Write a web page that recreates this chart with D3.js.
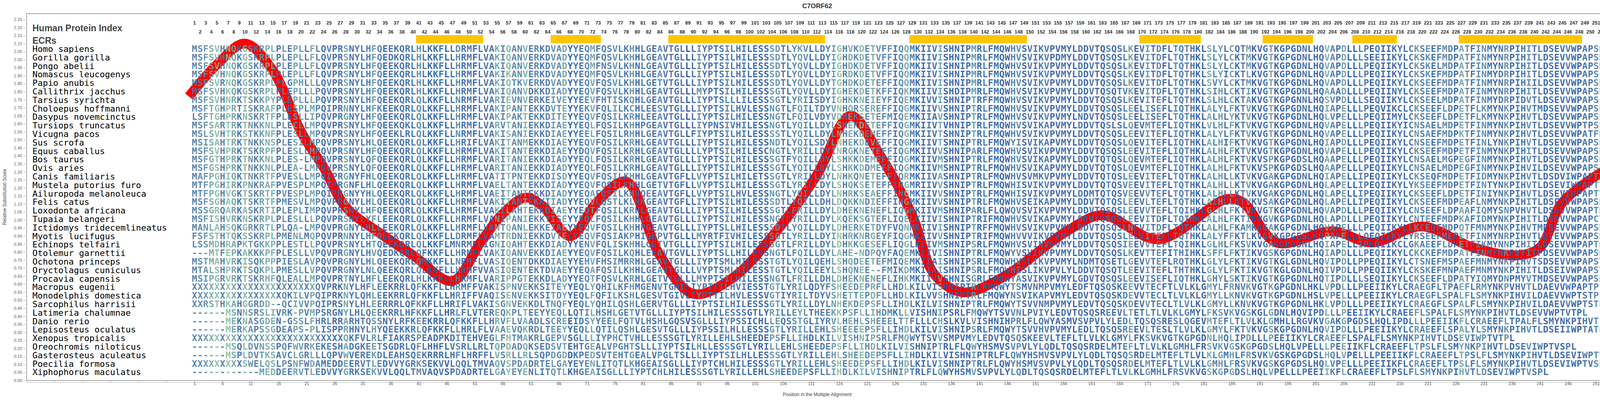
<!DOCTYPE html>
<html>
<head>
<meta charset="utf-8">
<script src="https://cdn.jsdelivr.net/npm/d3@7"></script>
<style>
  html, body { margin: 0; padding: 0; background: #fff; overflow: hidden; }
  svg { display: block; }
</style>
</head>
<body>
<div id="chart"></div>
<script>

const species = ["Homo sapiens", "Gorilla gorilla", "Pongo abelii", "Nomascus leucogenys", "Papio anubis",
    "Callithrix jacchus", "Tarsius syrichta", "Choloepus hoffmanni", "Dasypus novemcinctus", "Tursiops truncatus",
    "Vicugna pacos", "Sus scrofa", "Equus caballus", "Bos taurus", "Ovis aries", "Canis familiaris",
    "Mustela putorius furo", "Ailuropoda melanoleuca", "Felis catus", "Loxodonta africana", "Tupaia belangeri",
    "Ictidomys tridecemlineatus", "Myotis lucifugus", "Echinops telfairi", "Otolemur garnettii",
    "Ochotona princeps", "Oryctolagus cuniculus", "Procavia capensis", "Macropus eugenii",
    "Monodelphis domestica", "Sarcophilus harrisii", "Latimeria chalumnae", "Danio rerio",
    "Lepisosteus oculatus", "Xenopus tropicalis", "Oreochromis niloticus", "Gasterosteus aculeatus",
    "Poecilia formosa", "Xiphophorus maculatus"];

// alignment, read in four blocks per row
const sequences = [
    "MSFSVHNQKGSKRPLPLEPLLFLQVPRSNYLHFQEEKQRLHLKKFLLDRMFLVAKIQANVERKDVADYYEQMFQSVLKHHLGEAVTGLLLIYPTSILHILESSSDTLYKVLLDYIGHVKDETVFFIQQMKIIVISHNIPMRLFMQWHVSVIKVPVMYLDDVTQSQSLKEVITDFLTQTHKLSLYLCQTMKVGTKGPGDNLHQVAPDLLLPEQIIKYLCKSEEFMDPATFINMYNRPIHITLDSEVVWPAPSRF",
    "MSFSVHNQKGSKRPLPLEPLLFLQVPRSNYLHFQEDKQRLHLKKFLLHRMFLVAKIQANVERKDVADYYEQMFQSVLKHHLGEAVTGLLLIYPTSILHILESSSDTLYQVLLDYIGHDKDETVFFIQQMKIIVISHNIPMRLFMQWHVSVIKVPDMYLDDVTQSQSLKEVITDFLTQTHKLSLYLCKTMKVGTKGPGDNLHQVAPDLLLSEEIIKYLCKSKEFMDPATFINMYNRPIHITLDSEVVWPAPSRF",
    "MSFSVHNQKGSKRPLPLEPLLFLQVPRSNYLHFQEEKQRLHLKKFLLHRMFLVAKIQANVERKDVADYYEQMFNSVLKHNLGEAVTGLLLIYPTSILHILESSSDTLYQVLLDYIGHDKDETVFFIQQMKIIVISHNIPMRLFMQWHVSVIKVPVMYLDDVTQSQSLKEVITDFLTQTHKLSLYLCKTMKVGTKGPGDNLHQVAPDLLLPEQIIKYLCKSKELMDPATFINMYNRPIHITLDSEVVWPAPSRF",
    "MSFSVHNQKGSKRPLPLEPLLFLQVPRSNYLHFQEEKQRLHLKKFLLHRMFLVAKIKANVERKDVADYYEQMFQSVLKHHLGEAVTGLLLIYPTSILHILESSSDTLYQVLLDYIGRDKDETVFFIQQMKIIVISHNIPMRLFMQWHVSVIKVPVMYLDDVTQSQSLKEVITDFLTQTHKLSLYICKTLKVGTKGPGDNLHQVAPDLLLPEQIIKYLCKSKEFMDPATFINMYDRPIHITLDSEVVWPAPSCF",
    "MSFSVRNQKGSKRPLPLGPHLLLQVPRSNYLHFQEEKQRLHLKKFLLHRMFLVAKIQTKVERKDVADYYEQVFQSVLKHHLGETVTGLLLIYPTSILHILESSSDTLYQVLLDYTGHDKDETEFFIQQMKIIVISHNIPMRLFMQWHVSVIKVPVMYLDDVTQSQSLKEVITDFLTQTHKLSVYLCKTMKVGTKGPGDNLHQVAPDLLLPEQIIKYLCKSEEFMDPATFINMYNRPIHIILDSEVVWPAPSRF",
    "MSFSVHKQKGSKRPLPLEPLLLPQVPRSNYLHFQEEKQRLHLKKFLLHRMFLVAKIQANVDKKDIADYYEQVFQSVLKHHLGEAVTGLLLMYPTSILHILESSSGTLYQVLLDYIGHEKDETKFFIQKMKIIVISHDIPMRLFMQWHVSVIKVPVMYLDDVTQSQTVKEVITDFLTQTHKLSIHLCKTIKVGTKGPGDNLHQAAADLLLPEQIINYLCKSEEFMDPATFINMYNRPIHITLDSEVVWPAPSHF",
    "MSFSVHNRKTSKKPYPLEPLLLPQVPRSNYLHFQEEKQRLQLKKFLLNRMFLVARIEVNVERKEIVEYYEEVFHTISKQHLGEAVTGLLLIYPTSLLLILESSSGTLYRIISDYIGHKKNEIEYFIQEMKIVVISHNIPTRFFMQWHVSVIKVPVMYLDDVTQSQSLKEVITEFLTQTHKLSLHLCKTAKVGTKGPGNNLHQSVPDLLLSEQIIKYLCKSEELMDPATFINMYDRPIDVTLDSEVVWPAPSCF",
    "MSFTGHPRTISKRAFPLESPLMPQIPRNNYLHFKEEKQRLQLKKFLLHRMFLVAKIPANTEKKDVTEYYEKVFQLILKCHLEESVTGLLLIYPTSILHVLESSNGTLFQILTDYVNHQRSEREFFIQGMKIIVVSHNIPTRLFMQWHVSVIKVPVMYLDDVTQSQSLEELISEFLIQTHKLALYLFKTVKVGTKGPGDNLHQIAPELLLPEQVIKCLCKSEEFLDPETFLKMYNKPIHVTMDSEVVWPAPSRF",
    "LSFTGHPRKNSKRTFPLESLLIPQVPRGNYLHFQEEKQRLQLKKFLLHRMFLVAKIPAKTEKKDITEYYEQVFQSILKRHLEEAVTGLLLIYPTSILHILESSNGTLFQILVDYVDHEKSETEFMIQEMKIIAVSHNIPTRLFMQWHVSVIKVPVMYLNDVTQSQSLEELISEFLTQTHKLALHLYKTVKVGTKGPGDNLHQLVPELLLPEQIIMYLCKSEEFLDPETFLKMYNKPIHVTLDSEVVWPAPSRF",
    "MSFSARTRKTNKKNLPLECLLMPQVPRSNYLHFQEEKQKLQLKKFLLHRMFLVARVTANIEKKDIAEYYEQLFQSILKHHPGEAVTGLLLIYPNSIVHILESSNGTLYQILLDYLSHEKDETEFFIQGMKIIVTVHNIPTRLFMQWHVSVIKAPVMYLDDVTQSLSLQEVMTEFLIQTHKLVLHLFKTVKVGTKGPGDNLHQVAPELLLPEQIIKYICNSAELMDPETFINMYNKPIHVTLDSEVVWPTPSSF",
    "MSLSVHTRKSTKKNFPLESLLMPQVPRSNYLHFQEEKLRLQLKKFLLNRMFLVAKISANIEKKDIAEYYEELFQSILRHHLGEAVTGLLFIYPTSILHILESSSSTLYQILLDYLNHEKDEMEFFIQGMKIIVTSHNIPTRLFMQWHVSVIKVPVMYLDDVTQSQSLEEVITEFLIQTHKLALYLFKTVKVGTKGPGDNLHQVAPELLLPEQIIKYLCNSAEFMDPKTFINMYNKPIHVTLDSEVVWPATFRF",
    "MSISAHTRKTNKKNSPLESILMPQVPRSNYLHLQEEKQRLQLKKFLLHRIFLVAKITANMEKKDIAEYYEQVFQSILKRHLGEAVTGLLLIYPTSILHILESSNDTLYQILSDYLNHEKDEVEFFIQGMKIIVTSHNIPTRLFMQWYISVIKAPVMYLDDVTQSQSLQEVITEFLIQTHKLALHIFKTVKVGTKGPGDNLHQIAPDLLLPEQIIKYLCNSEEFMDPETFINLYNKPIHVTLDSEVVWPAPSRF",
    "MSFSVHPRKTSKRPFPLESLLMPQVPRSNYLHFQEEKQRLQLKKFLLHRMFLVAKITANTERKDIAEYYDQVFQSILKRHLGEAVTGLLLLYPTSILHILESCNGTLYRILLDYINRGKNETEFFIQGMKIIVVSHNIPARLFMQWHVSVIKVPVMYLDDVTQSQSLEEVITEFLIQTHKLALHLFKTVKVGTKGPGDNLHQVAPELLLPEQIIKYLCKSEEFMDPETFINMYNKPIHITLDSEVVWPAPSRF",
    "MSFGTHPRKTNKKNLPLES-LMPQVPRSNYLQFQEEKQRLQLKKFLLHRMFLVARITANIEKKDIADYYEQLFQSILKRHLGEAVTGLLLIYPTSILHILESSSGTFYQILLDYLSHKKDEMEFFIQGMKIIVMSHNIPTRLFMQWHVSVIKAPVMYLDDVTQTQSLQEVMTEFLIQTHKLALHLFKTVKVSPKGPGDSLHQAAPELLLPEQIIKYLCNSAELMGPEGFINMYNKPIHVTLDSEVVWPAPSRF",
    "MSFGSHPRKTNKKNLPLEA-LMPQVPRSNYLQFQEEKQRLQLKKFLLHRMFLVARITANIEKKDIADYYEQLFQSILKRHLGEAVTGLLLIYPTSILHILESSSGTLYQILLDYLSHKKDDMEFFIQGMKIIVMSHNIPTRLFMQWHVSVIKAPVMYLDDVTQTQSLQEVMTEFLIQTHKLALHLFKTVKVSPKGPGDSLHQAAPELLLPEQIIKYLCNSAELMDPEGFINMYNKPIHVILDSEVVWPAPSCF",
    "MAFPGHIQKTNKRTFPVESLLMPQIPRGNYFHLQEEKQRLQLKKFLLHRMFLVATITPNTEKKDISDYYEQVFQSILKHHLGEAVTGFLLVYPTSILHILETSSGTLYRILLDYLNHKQNETEFFIQRMKIIVASHNIPTRLFMQWHVSVMKVPVMYLDDVTQTQSLEEVITEFLTQTHKLALHLLKTVKVGAKGPGDNLHQIAPELLIPEQIIKYLCKSEQFMDPETFIDMYNKPIHVTLDSDVIWPAPTYF",
    "MTFPGHIRKPNKRAFPVESPLMPQIPRGNFLHLQEEKQRLQLKKFLLHRMFLVAELTANTEKKDIADYYEQVFQSILKHHLGETVTGFLLVYPTSILHILESSSGTLYRILLDYLSHQKSETEFFIRGMRIIVVSHNIPTRLFMQWHISVIKVPVMYLDDVTQTQSVEEVITEFLTQTHKLALHLLKTVKVGAKGPGDNLHQLAPELLIPEQIIKYLYKSEEFMDPETFINTYNKPIHVTLDSEVIWPAPTYF",
    "MTFPGHVGKTSKRTFPVESPLMPQIPRGNYYHLQEEKQRLQLKKFLLHRMFLVAEITANTEKKDIADYYEQAFQSILKHHQEEAVTGFLLVYPTSILHVLESSNGTLYQILLDYLNHRKSEAEFFIHGMKIIVVSHNIPTRLFMQWHISVIKVPVMYLDDMTQTQSVEEVVTEFLTQTHKLALHLLKTVKVGAKGPGDNLHQLAPELLIPEQIIKYLCKSEEFLDPETFINIYNKPIHVTLDSEVIWPAPTYF",
    "MSFSGHAQKTSKRTFPMESVLMPQVPRGNYLHLQEEKQRLQLKKFLLHRMFLVAKITANTEKKIIADYYEQVLQSTLKLHKGEAVTGFLLIYPTSILHILESSSDTLYQILLDHLDQKKNDIEFFIHGMKIIVVSHNIPTRLFMQWHVSEIKAPVMYLDDVTQTQSLEEVLTEFLTQTHKLAIHLLKTVKVSAKGPGDNLHQLAPELLIPEQIIKYLCKSEEFMDPEAFLNMYNKPIHITLDSEVVWPAPSHF",
    "MSSGRQARKASKRTIPLEPLIMPQVPRSNYLHFQEEKQRLQLKKFLLHRMFLVAKILAHTEKKDIAEYYEQTFQSILKRHLGEAVTGLLLIYPTSILHILESSSGTLFRILLDYLDHEKNENEFLIQGMKIIVMSHNIPARLFLQWQVSVIKVPVMYLDDVTQSQSLEEVVTEFLTQIHKLGLHLFKTVKVGTKGPGDNLHQVAPDLLLPEQIIKYLCNSEEFLDPAAFIQMYSNPVHVTLDSEVVWPAPTRF",
    "MSFISHVRKNSKRPLPLESLLLPQVPRSNYLYFLEEKQRLQLKKFLLHRMFLVANIPANIEKKYISEYYEQLFQSILKHHLGEAVTGLLLIYPTSILHILESSNGTLYRILLDYLKQEKSGTEFLIQELKIIVISHNIPTRIFMQWHVSVIKAPVMYLDDVTQSQSLEEVITDFLTQIHKLALHLFKTIKVGVKGPGDNLHQLAPDLLLPEQIIKYLCNTEEFMDPKAFIDMYNKPIHITLDSEVVWPAPCYF",
    "MANLAHSQKGRKRTLPLQA-LMPQVPRGNYLHLLEEKQRLQLKKFLLHRMFLVANTQANLEKKEIAEYYEQVFQSILKHHPGEAVTGLLLIYPTSLLHILESSSDTLYQILLDYLDHERKETDYFVQNMKIIVISHNIPTRFFMQWHVSVIKVPVMYLDDVTQSQSLNEVITDFLTQTHKLALHLFKAMKAGAKGPGDNLHQVAPELLLPEQIIKYLLKCEQFMDPQTFMNMYNKPIHVTMDSEVVWPAPSRF",
    "FSFSTHTQKSSKRPLPMENLMQPQVPRNNYLHFQEEKQRLQLKKFLLDRMFLVAMTRDNIEKKDVTEYYEQVFQSIAKPHIGEPVTGLLLMYRTFIVHILESSSGTLYRILLDYINHRKNRGEYFIQGMKIIVVSHNIPTRIFMQWHVVVIKVPVMYLDDVTQSQSLEEVITEFLTQTHKLALYFFKTLKVGVKGPGESLHQPAPELLLQEQIIKYLYRSEEFMEPETFINMYNRPIHVTLDTEVVWPAPSRF",
    "LSSMDHRAPKTGKKPPLESTLLPQVPRSNYLHTQEEKQRLQLKKFLMNRMFLIGNIQAHTEKKDIADYYENVFQLISKHHLGETVTGLLLIYPTSILHILESSSGTLFRILLDYLDHKKGESEFLIQGLKIIVMSHNIPSRLFMQWHVSVINVPVMYLDDVTQSQSIEEVVTEFLTQIHKLGLHLFKSVKVGAKGPGDNLHQIAPELLIPEQIIKCLGKAEEFLDPETFIKMYNNPIHITLDSEVVWPAPTRF",
    "---MTFEPKAKKKPFPLESLLVPQVPRGNYLHVQEDKQRLQFKKFLLHRMFLVAKIQANVEKKDIAEYYEQVFQSILKQHLEEAVTGVLLIYPTSLLHILESSNGTLFQILLDYLAHE-NDPQYFAQEMKIIVISHNIPTRLFMQWYVSVIKVPVMYLDDVTQSQSLKEVTTEFITHIHKLSFFLFKTIKVGSKGPGDNLHQIAPDLLLPEQIIKYLCKCKEFMDPATFINMYNKPVYITFDSEVVWPAPSRF",
    "MSTMAHVRKISQKPPPIESLAVPQVPRGNYLHLQEEKQRLQMKKFLLNRMFLVASIQENTDKKDIAEYYEHVFHSIMRRHLGEAVTGLLLIYPTSMLHILESSTGTLYQILQEHLSHQDEETEFMIQEMKIIAISHNIPSRLFMQWHVSLIKVPVMYLNDMTQSETLGEVVTEFLRQTHKLGLYLFKTIKVGTKGLGDNLHQVIPDLLPPEQIIKYLCTSNEFMSPAEFMNMYNKPIHVTSDSEVVWPAPSYF",
    "MTALSHPRKTSQKPLPMESLLVPQVPRGNYLNLQEEKQRLQLKKFLLHRMFVVASIQENTEKTDVAEYYEQAFQSILKHHLGEAVTGLLLVYPTSMLHILESSTGTLYQILEEYLSHQNEE--FMIKDMKIIAISHNIPSRLFMQWHISLIKVPVLYLDDVTQSQTLEEVITEFLTHTHKLGLYLFKTIKVGTKGLGDNLHQIVPDLLPPEQIIKYLCKSKEFMNPAEFMNMYNKPIHITLDSEIVWPAPSYF",
    "MSIPGRVRKTSKRHFQLEALLMPQVPRTNYLHFLEEKQRLHLKKFLLHRMFLVARIPPGTEKKDLADYYEQTFQSVLKRHLGETVTGLLLMYPTSILHILESSNGTLFRILLDHLDHEKNENEFLIHKMKIIVVSHNISGRLFMQWYASVIKVPVMYLGDVTQSQSLEEVISEFLIQTHKLGHYLSKTIKVGTKGPGDNLHQTIPDLLLSEQIIKYLCKSEEFLDPATYIQMYDNPMYVTMDSEVVWPAPSHF",
    "XXXXXXXXXXXXXXXXXXXXXXQVPRKNYLHFLEEKRRLQFKKFLLHRMFFVAKISPNVEKKSITEYYEQLYQHILKFHMGENVTGMILIYPTTILHVIESSTGTLYRILQDYFSHEEDEPRFLLHDLKILVISHNIPTRLFMQWYTSMVNMPVMYLEDFTQSQSKEEVVTECFTLVLKLGMYLFRNVKVGTKGPGDNLHKLVPDLLLPEEIIKYLCRAEGFLTPAEFLRMYNKPVHVTLDAEVVWPAPTPL",
    "XXXXXXXXXXXXXXXXQKILVPQIPRKNYLQHLEEKRRLQFKKFLLHRIFFVAQISENVEKKSITDYYEQLFQFILKSHLGESVTGIVLIYPTTILHVLESSVGTIYRILTDYVSHETTEPDFLLHDLKILVVSHNIPTRLFMQWYNSVIKAPVMYLEDVTQSQSKDEVVTECLTLVLKLGMYLLKNVKVGTKGPGDNLHSLVPELLLPEEIIKYLCRAEGFLSPALFLSMYNKPIHVILDAEVVWPTSTPL",
    "XXRSTHKAHGGRDD--QCIVVPQIPRSNYLHLEERRRLQFKKFLLHRIFLVAKISGNVEKKDLTNQFYEQLYQHILQSHLGERVTGLLLIYPTSILHILESSSGTLYRILLDYLNHEKDEPSFLLIHDLKILVISHNIPTRLFMQWYTSVVNMPVMYLEDVTQSQSKDEVVTECLTLVLKLGMYLLKNVKVGTKGPGDNLHKLVPDLLLPEEIIKYLCRAEGFLSPALFLSMYNKPIHVILDAEVVWPTSTPL",
    "------MSNNSRSLIVRK-PVMPSRGNYLHLQEEKRRLHFKKFLLHRLFLVTEREQKPLTEEYYEQLLQTILHSHLGETVTGLLLIYPTSILHILESSSGTLYRILLEYLTHEEKKPSFLLIHDMKLLVISHNIPSRLFMQWYTSVVNLPVIYLEDVTQSQSREEVLTETLTLVLKLGMYLFKSVKVGSKGLGDNLHQVIPDLLLPEEIIKYLCRAEEFLSPALFLSMYNKPIHVTLDSEVVWPTVTPL",
    "------MEKNASGDEN-GSSLFHRLRRARHTQSSNYLRFKEEKRRLQFKKFLLHRVFLVAADLSCREEIDSYYEELFQTVLHSHLGQSVSGLLLIYPSSICHLLEQSSTGLIYRVLHEHLSHEEELTTFLLLCHSLKVLVISHNIHPRLFLQWYASMVSVPVLYLEDLTQSQSRESLQGEVMTEFLTLVLKLGMHLLRGVKVGAKGPGDSLHQLIPDLLLPEEIIKFLCRAEEFLTPALFLSMYNKPIHVTLDSEIIWPAVSPL",
    "------MERKAPSSGDEAPS-PLISPPRHNYLHYQEEKKRLQFKKFLLHRLFLVAAEVQKRDLTEEYYEQLLQTILQSHLGESVTGLLLIYPSSILHLLESSSGTLYRILLEHLSHEEEEPSFLLIHDLKILVISHNIPSRLFMQWYTSVVHVPVMYLEDLTQSQSREEVLTESLTLVLKLGMYLFKTVKVGSKGPGDNLHQVIPDLLLPEEIIKYLCRAEEFLSPALYLSMYNKPIHVTLDSEIIWPTATPL",
    "XXXXXXXXXXXXXXXXXXXXXXXXXXXQKFVLRLFIAKRSPEADPKDITEHVEGLFHTMAKRLGEPVSGLLLIYPHCTVHLLESSSGTLYRILLEHLSHEEDEPSFLLIHDLKILVISHNIPSRLFMQWYTSVVSMPVMYLEDVTQSQSKEEVLTEFLTLVLKLGMYLFKSVKVGTKGPGDNLHQLIPDLLLPEEIIKYLCRAEEFLSPALFLSMYNKPIHVTLDSEVIWPTVTPL",
    "------MSQLDVNSSPQFWVRKEKESHADGKEETSGDRLQFLHHFLVSRLLRLTQPDADQKSEDSVTEHTGEALVPGHTSLLLIYPTSILHLLESSSGTLYRILLEHLSHEEDEPSFLLIHDLKILVISHNIPTRLFLQWYHSMVSVPVLYLQDLTQSQSRDELMTEFLTLVLKLGMHLFRSVKVGSKGPGDSLHQLVPELLLPEEIIKFLCRAEEFLTPSLFLSMYNKPIHVTLDSEVIWPTVSPL",
    "------MSPLDVTKSAVCLGRLLLQPVWVEREKDLEAHSQEKRRRLHFLHRFFLVSRLLRLSQPDGDDKPEDSVTEHTGEALVPGLTSLLLIYPTSILHLLESSSGTLYRILLEHLSHEEDEPSFLLIHDLKILVISHNIPTRLFLQWYHSMVSVPVLYLQDLTQSQSRDELMTEFLTLVLKLGMHLFRSVKVGSKGPGDSLHQLVPELLLPEEIIKFLCRAEEFLTPSLFLSMYNKPIHVTLDSEVIWPTVSPL",
    "XXXXXXXXXSWELQSLPSNFWDAMEDDEERVTLEDVVYGRKSEKVVLQQLTMVAQVSPDADRTELGAYEYENLITQTLKHGEAISGLLLIYPTCHLHILESSSGTLYRILLEHLSHEEDEPSFLLIHDLKILVISHNIPTRLFLQWYHSMVSVPVLYLQDLTQSQSRDELMTEFLTLVLKLGMHLFRSVKVGSKGPGDSLHQLVPELLLPEEIIKFLCRAEEFLTPSLFLSMYNKPIHVTLDSEVIWPTVSPL",
    "------------MEDDEERVTLEDVVYGRKSEKVVLQQLTMVAQVSPDADRTELGAYEYENLITQTLKHGEAISGLLLIYPTCHLHILESSSGTLYRILLEHLSHEEDEPSFLLIHDLKILVISHNIPTRLFLQWYHSMVSVPVLYLQDLTQSQSRDELMTEFLTLVLKLGMHLFRSVKVGSKGPGDSLHQLVPELLLPEEIIKFLCRAEEFLTPSLFLSMYNKPIHVTLDSEVIWPTVSPL"
];

// evolutionarily conserved regions (start, end positions)
const ecrs = [[41, 52], [65, 73], [86, 113], [129, 149], [170, 180], [192, 200], [208, 215], [227, 248]];

// relative substitution score
const scorePositions = [0, 5, 10, 15, 20, 24, 28, 34, 40, 47, 52, 56, 60, 63, 68, 73, 78, 84, 90, 97, 105, 112, 118, 123,
    129, 133, 138, 145, 157, 163, 173, 185, 188, 194, 204, 211, 220, 229, 237, 241, 245, 253];
const scoreValues = [1.77, 1.97, 2.10, 1.93, 1.55, 1.33, 1.08, 0.92, 0.78, 0.62, 0.86, 1.04, 1.14, 1.09, 0.90, 1.12, 1.24, 0.78, 0.54, 0.64, 0.94, 1.28, 1.65, 1.42,
    1.03, 0.66, 0.55, 0.64, 0.94, 1.03, 0.88, 1.13, 1.11, 0.86, 0.93, 0.86, 0.96, 0.83, 0.78, 0.83, 1.11, 1.32];

const yTicks = d3.range(0, 2.2501, 0.05);
const nPos = 253;

const widthSvg = 4127, heightSvg = 1025;
const frameLeft = 68, frameRight = 4116, frameTop = 35, frameBottom = 975;

const svg = d3.select("#chart").append("svg")
    .attr("width", widthSvg).attr("height", heightSvg)
    .style("font-family", "'Liberation Sans', Arial, sans-serif");

// scales
const xScale = d3.scaleLinear().domain([1, 251]).range([498, 4086]);
const yScale = d3.scaleLinear().domain([0, 2.25]).range([frameBottom, 50]);
const rowY = i => 133 + i * 21.8;

// title
svg.append("text").text("C7ORF62")
    .attr("x", 2092).attr("y", 21)
    .attr("text-anchor", "middle")
    .attr("font-size", 17).attr("font-weight", "bold").attr("fill", "#333");

// frame
svg.append("rect")
    .attr("x", frameLeft).attr("y", frameTop)
    .attr("width", frameRight - frameLeft).attr("height", frameBottom - frameTop)
    .attr("fill", "none").attr("stroke", "#888").attr("stroke-width", 1.5);

// y axis
const yAxis = svg.append("g").attr("transform", `translate(${frameLeft - 3},0)`)
    .call(d3.axisLeft(yScale).tickValues(yTicks).tickFormat(d3.format(".2f")).tickSize(5));
yAxis.select(".domain").remove();
yAxis.selectAll("line").attr("stroke", "#999");
yAxis.selectAll("text").attr("fill", "#666").attr("font-size", 11)
    .style("font-family", "'Liberation Sans', Arial, sans-serif");

svg.append("text").text("Relative Substitution Score")
    .attr("transform", `translate(16, ${(frameTop + frameBottom) / 2}) rotate(-90)`)
    .attr("text-anchor", "middle").attr("font-size", 12).attr("fill", "#444");

// x axis
const xTickVals = d3.range(-29, 252, 5);
const xAxis = svg.append("g").attr("transform", `translate(0, 980)`)
    .call(d3.axisBottom(xScale).tickValues(xTickVals).tickSize(-4)
        .tickFormat(d => d >= 1 ? d : ""));
xAxis.select(".domain").attr("stroke", "#aaa").attr("d", `M${frameLeft},0H${frameRight}`);
xAxis.selectAll("line").attr("stroke", "#aaa");
xAxis.selectAll("text").attr("fill", "#555").attr("font-size", 11).attr("dy", "0.4em")
    .style("font-family", "'Liberation Sans', Arial, sans-serif");

svg.append("text").text("Position in the Multiple Alignment")
    .attr("x", 2092).attr("y", 1015)
    .attr("text-anchor", "middle").attr("font-size", 12).attr("fill", "#444");

// header texts
svg.append("text").text("Human Protein Index")
    .attr("x", 83).attr("y", 80)
    .attr("font-size", 23).attr("font-weight", "bold").attr("fill", "#444");
svg.append("text").text("ECRs")
    .attr("x", 83).attr("y", 112)
    .attr("font-size", 23).attr("font-weight", "bold").attr("fill", "#444");

// position numbers, odd on top, even below
const positions = d3.range(1, nPos + 1);
svg.append("g").selectAll("text")
    .data(positions)
    .enter()
    .append("text")
    .text(d => d)
    .attr("x", d => xScale(d))
    .attr("y", d => d % 2 === 1 ? 63 : 86)
    .attr("text-anchor", "middle")
    .attr("font-size", 12.5).attr("font-weight", "bold").attr("fill", "#333");

// ECR bars
svg.append("g").selectAll("rect")
    .data(ecrs)
    .enter()
    .append("rect")
    .attr("x", d => xScale(d[0]) - 7)
    .attr("width", d => xScale(d[1]) - xScale(d[0]) + 14)
    .attr("y", 90).attr("height", 21)
    .attr("fill", "#ffc600");

// species labels
svg.append("g").selectAll("text")
    .data(species)
    .enter()
    .append("text")
    .text(d => d)
    .attr("x", 83)
    .attr("y", (d, i) => rowY(i))
    .attr("font-size", 22)
    .attr("fill", "#000")
    .style("font-family", "'DejaVu Sans Mono', monospace");

// score curve, behind the letters
const scoreData = scorePositions.map((p, i) => ({ pos: p, value: scoreValues[i] }));
svg.append("path")
    .datum(scoreData)
    .attr("fill", "none")
    .attr("stroke", "#ff0000")
    .attr("stroke-width", 25)
    .attr("stroke-linejoin", "round")
    .attr("d", d3.line()
        .x(d => xScale(d.pos))
        .y(d => yScale(d.value))
        .curve(d3.curveCatmullRom.alpha(0.5)));

// column conservation -> letter colour
const conservation = positions.map((p, c) => {
    const counts = d3.rollup(sequences.map(s => s[c]).filter(ch => ch && ch !== "-" && ch !== "X"), v => v.length, ch => ch);
    return counts.size ? d3.max(counts.values()) / sequences.length : 0;
});
const colorScale = d3.scaleLinear()
    .domain([0.2, 0.6, 1])
    .range(["#8cc0a0", "#4a7ba8", "#0a3a9e"])
    .clamp(true);

const letters = [];
sequences.forEach((seq, r) => {
    for (let c = 0; c < Math.min(seq.length, nPos); c++) {
        letters.push({ row: r, col: c, ch: seq[c] });
    }
});

svg.append("g").selectAll("text")
    .data(letters)
    .enter()
    .append("text")
    .text(d => d.ch)
    .attr("x", d => xScale(d.col + 1))
    .attr("y", d => rowY(d.row))
    .attr("text-anchor", "middle")
    .attr("font-size", 23)
    .attr("font-weight", "bold")
    .attr("fill", d => colorScale(conservation[d.col]))
    .attr("fill-opacity", 0.92)
    .style("font-family", "'DejaVu Sans Mono', monospace");

</script>
</body>
</html>
